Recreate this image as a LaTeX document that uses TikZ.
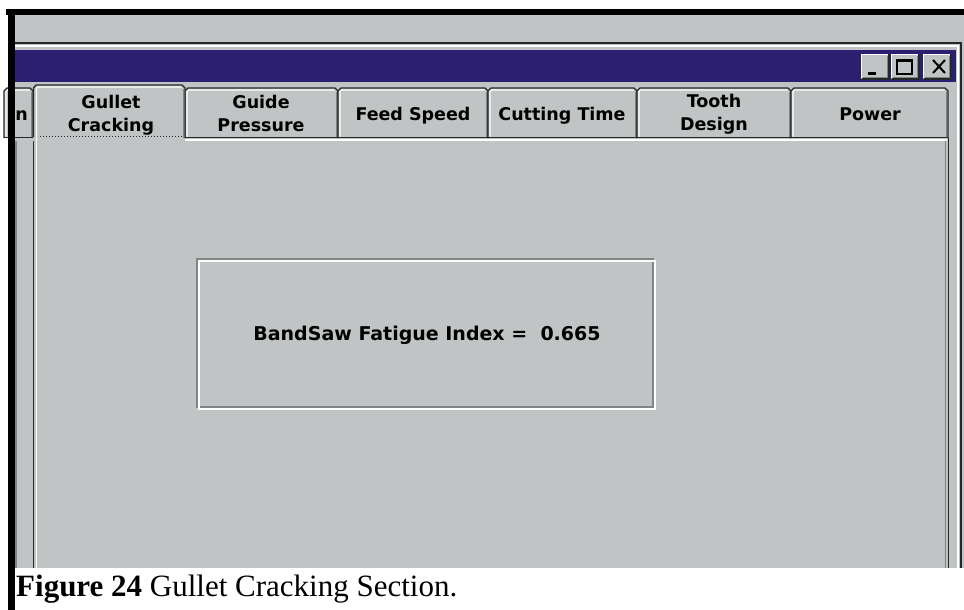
\documentclass[tikz,border=0pt]{standalone}
\usepackage{fontspec}
\setmainfont{Liberation Serif}
\newfontfamily\uifont{DejaVu Sans}
\definecolor{wingray}{RGB}{192,196,196}
\definecolor{titleblue}{RGB}{44,30,112}
\definecolor{midshade}{RGB}{128,132,132}
\definecolor{darkedge}{RGB}{38,40,40}
\tikzset{
  tablabel/.style={font=\uifont\bfseries\fontsize{17.5}{21}\selectfont, text=black, inner sep=0pt, anchor=base},
  edgedark/.style={draw=darkedge, line width=1.3pt},
  edgelight/.style={draw=white, line width=1.3pt},
  edgemid/.style={draw=midshade, line width=1.3pt},
}
\begin{document}
\begin{tikzpicture}[x=1pt,y=-1pt]
\useasboundingbox (0,0) rectangle (964,610);
\fill[white] (0,0) rectangle (964,610);

% window background
\fill[wingray] (15,15) rectangle (964,568);
% outer frame of the inner window
\draw[edgedark] (15,43) -- (961,43) -- (961,568);
\draw[edgelight] (15,46) -- (958,46) -- (958,568);

% title bar
\fill[titleblue] (15,50) rectangle (956,82);

% title bar buttons
\foreach \bx/\nm in {861/minbtn, 891/maxbtn, 923/closebtn}{
  \fill[wingray] (\bx,54) rectangle (\bx+28,79);
  \draw[edgelight] (\bx+0.5,78.5) -- (\bx+0.5,54.5) -- (\bx+27.5,54.5);
  \draw[edgedark] (\bx+0.5,79) -- (\bx+28,79) -- (\bx+28,54.5);
  \draw[edgemid] (\bx+2,77.5) -- (\bx+26.5,77.5) -- (\bx+26.5,56);
}
% minimize glyph
\fill[black] (868,72) rectangle (876,75);
% maximize glyph
\draw[black, line width=1.3pt] (897,60) rectangle (912,74);
\fill[black] (897,59) rectangle (912,62);
% close glyph
\draw[black, line width=2pt] (933,60) -- (945,73) (945,60) -- (933,73);

% unselected tabs
\foreach \a/\b in {4/33, 185/338, 338/488, 488/637, 637/791, 791/948}{
  \fill[wingray] (\a,138) -- (\a,91) -- (\a+3,88) -- (\b-3,88) -- (\b,91) -- (\b,138) -- cycle;
  \draw[edgedark] (\a,138) -- (\a,91) -- (\a+3,88) -- (\b-3,88) -- (\b,91) -- (\b,138);
  \draw[edgelight] (\a+2,136.5) -- (\a+2,91.5) -- (\a+3.5,90) -- (\b-3.5,90);
  \draw[edgemid] (\b-1.8,92) -- (\b-1.8,136.5);
}
\draw[edgedark] (4,137.5) -- (948,137.5);

% panel
\fill[wingray] (33,139) rectangle (950,568);
\draw[edgelight] (185,140) -- (947,140);
\draw[edgedark] (33.5,137) -- (33.5,568);
\draw[edgelight] (36.5,140) -- (36.5,568);
\draw[edgemid] (945.5,141) -- (945.5,568);
\draw[edgedark] (948.5,138) -- (948.5,568);
\draw[draw=midshade, line width=1.5pt] (16,141) -- (16,568);

% selected tab
\fill[wingray] (33,141) -- (33,88) -- (36,85) -- (182,85) -- (185,88) -- (185,141) -- cycle;
\draw[edgedark] (33.5,137) -- (33.5,88) -- (36,85) -- (182,85) -- (185,88) -- (185,138);
\draw[edgelight] (36.5,141) -- (36.5,88.5) -- (38,87) -- (181,87);
\draw[edgemid] (183.2,89) -- (183.2,138);

% tab captions
\node[tablabel, anchor=base east] (tabn) at (28,120) {n};
\node[tablabel] (gullet) at (111,108) {Gullet};
\node[tablabel] (cracking) at (111,131) {Cracking};
\draw[darkedge, line width=1pt, dotted] (40,136) -- (182,136);
\node[tablabel] (guide) at (261,108) {Guide};
\node[tablabel] (pressure) at (261,131) {Pressure};
\node[tablabel] (feed) at (413,120) {Feed Speed};
\node[tablabel] (cutting) at (562,120) {Cutting Time};
\node[tablabel] (tooth) at (714,107) {Tooth};
\node[tablabel] (design) at (714,130) {Design};
\node[tablabel] (power) at (870,120) {Power};

% etched result box
\draw[draw=midshade, line width=1.3pt] (197,259) rectangle (653,407);
\draw[edgelight] (199,261) rectangle (655,409);
\node[font=\uifont\bfseries\fontsize{19}{23}\selectfont, inner sep=0pt, anchor=base] (fatigue) at (427,340) {BandSaw Fatigue Index =\ \ 0.665};

% caption strip
\fill[white] (15,568) rectangle (964,610);
\node[font=\fontsize{31}{36}\selectfont, inner sep=0pt, anchor=base west] (caption) at (16,596) {\textbf{Figure 24} Gullet Cracking Section.};

% black border
\fill[black] (6,9) rectangle (964,15);
\fill[black] (8,9) rectangle (15,610);
\end{tikzpicture}
\end{document}
